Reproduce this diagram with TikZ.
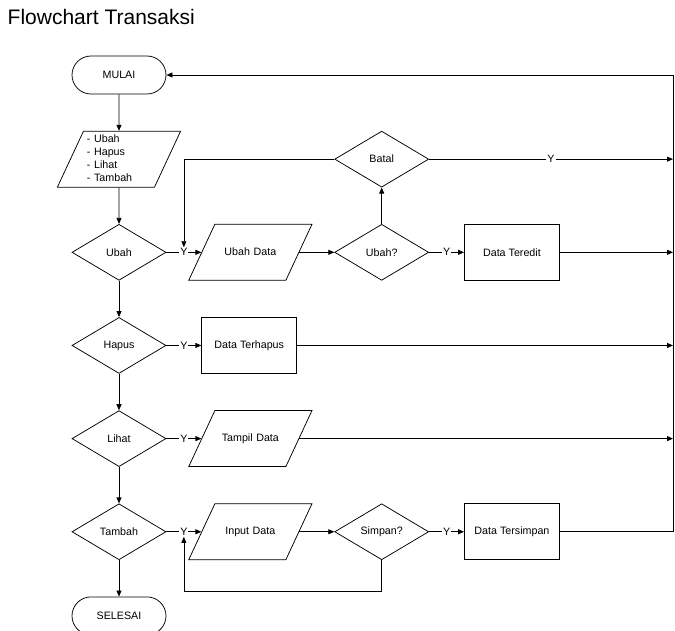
\documentclass[tikz,border=0pt]{standalone}
\usepackage{fontspec}
\setmainfont{Liberation Sans}
\usetikzlibrary{positioning, arrows.meta, shapes.geometric}

\begin{document}
\begin{tikzpicture}[x=1pt, y=-1pt, node distance=36.4pt and 35pt,
        line width=0.75pt, font=\fontsize{10.7}{13}\selectfont,
        terminal/.style={draw, rounded corners=19pt, minimum width=94pt, minimum height=38pt},
        keputusan/.style={draw, diamond, aspect=1.68, minimum width=94pt, minimum height=56pt, inner sep=0pt},
        proses/.style={draw, rectangle, minimum width=95pt, minimum height=56pt},
        masukan/.style={draw, trapezium, trapezium left angle=65, trapezium right angle=115,
            text width=64pt, align=center, inner xsep=3.5pt,
            text height=8pt, text depth=2.5pt, inner ysep=22.75pt},
        panah/.style={-{Triangle[length=6pt, width=5pt]}},
        ya/.style={fill=white, inner sep=1pt}]
            \useasboundingbox (0,0) rectangle (675,631);

            \node [anchor=base west, font=\fontsize{21}{25}\selectfont] (judul) at (4,25) {Flowchart Transaksi};

            % kolom utama
            \node [terminal] (mulai) at (119,75) {MULAI};
            \node [masukan, below=of mulai, align=left, text depth=41.5pt, inner ysep=3.25pt] (menu)
                {- Ubah\\- Hapus\\- Lihat\\- Tambah};
            \node [keputusan, below=of menu] (ubah) {Ubah};
            \node [keputusan, below=of ubah] (hapus) {Hapus};
            \node [keputusan, below=of hapus] (lihat) {Lihat};
            \node [keputusan, below=of lihat] (tambah) {Tambah};
            \node [terminal, below=of tambah] (selesai) {SELESAI};

            % cabang ke kanan
            \node [masukan, right=of ubah.east, anchor=left side] (ubahdata) {Ubah Data};
            \node [keputusan, right=of ubahdata.right side] (ubahq) {Ubah?};
            \node [proses, right=of ubahq] (teredit) {Data Teredit};
            \node [keputusan, above=of ubahq] (batal) {Batal};
            \node [proses, right=of hapus] (terhapus) {Data Terhapus};
            \node [masukan, right=of lihat.east, anchor=left side] (tampil) {Tampil Data};
            \node [masukan, right=of tambah.east, anchor=left side] (input) {Input Data};
            \node [keputusan, right=of input.right side] (simpan) {Simpan?};
            \node [proses, right=of simpan] (tersimpan) {Data Tersimpan};

            \coordinate (pojok) at (673,75);

            \draw [panah] (mulai) -- (menu);
            \draw [panah] (menu) -- (ubah);
            \draw [panah] (ubah) -- (hapus);
            \draw [panah] (hapus) -- (lihat);
            \draw [panah] (lihat) -- (tambah);
            \draw [panah] (tambah) -- (selesai);

            \draw [panah] (ubah.east) -- node [ya] (y1) {Y} (ubahdata.left side);
            \draw [panah] (ubahdata.right side) -- (ubahq.west);
            \draw [panah] (ubahq) -- node [ya] {Y} (teredit);
            \draw [panah] (ubahq) -- (batal);
            \draw [panah] (batal) -- node [ya] {Y} (batal -| pojok);
            \draw [panah] (batal.west) -| (y1.north);
            \draw [panah] (teredit) -- (teredit -| pojok);

            \draw [panah] (hapus) -- node [ya] {Y} (terhapus);
            \draw [panah] (terhapus) -- (terhapus -| pojok);

            \draw [panah] (lihat.east) -- node [ya] {Y} (tampil.left side);
            \draw [panah] (tampil.right side) -- (tampil.right side -| pojok);

            \draw [panah] (tambah.east) -- node [ya] (y4) {Y} (input.left side);
            \draw [panah] (input.right side) -- (simpan.west);
            \draw [panah] (simpan) -- node [ya] {Y} (tersimpan);
            \draw [panah] (simpan.south) -- ++(0,31) -| (y4.south);

            % kembali ke awal
            \draw [panah] (tersimpan) -| (pojok) -- (mulai);
        \end{tikzpicture}
\end{document}
